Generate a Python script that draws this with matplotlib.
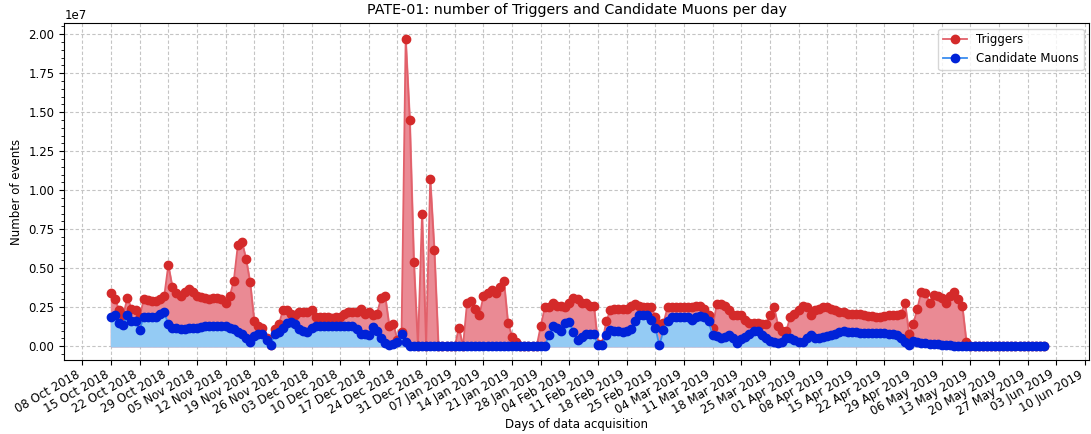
import matplotlib
matplotlib.use('Agg')
import matplotlib.pyplot as plt
import matplotlib.dates as md
from matplotlib.ticker import AutoMinorLocator
import numpy as np
import pandas as pd

# daily values, in units of 1e6 events, one list per month
start_day = '2018-10-15'

trig_oct = [3.4, 3.0, 2.3, 2.0, 3.1, 2.4, 2.3, 1.9, 3.0, 2.95, 2.9, 2.9, 3.0, 3.2, 5.2, 3.8, 3.4]
trig_nov = [3.2, 3.5, 3.7, 3.5, 3.2, 3.15, 3.1, 3.05, 3.1, 3.1, 3.05, 2.75, 3.2, 4.2, 6.5,
            6.7, 5.6, 4.1, 1.6, 1.3, 1.2, 0.5, 0.1, 1.1, 1.4, 2.3, 2.3, 2.1, 2.0, 2.2]
trig_dec = [2.2, 2.2, 2.3, 1.9, 1.9, 1.85, 1.85, 1.8, 1.85, 1.85, 2.1, 2.2, 2.2, 2.2, 2.4,
            2.1, 2.2, 2.0, 2.1, 3.1, 3.2, 1.3, 1.4, 0.4, 0.9, 19.7, 14.5, 5.4, 0.0, 8.5, 0.0]
trig_jan = [10.7, 6.2, 0, 0, 0, 0, 0, 1.2, 0, 2.8, 2.9, 2.4, 2.0, 3.2, 3.4, 3.6, 3.4, 3.8,
            4.2, 1.5, 0.6, 0.3, 0, 0, 0, 0, 0, 1.3, 2.5, 2.5, 2.8]
trig_feb = [2.6, 2.6, 2.5, 2.8, 3.1, 3.0, 2.8, 2.75, 2.6, 2.6, 0.15, 0.15, 1.6, 2.3, 2.4,
            2.4, 2.4, 2.4, 2.6, 2.7, 2.6, 2.5, 2.5, 2.5, 1.9, 1.4, 1.5, 2.5]
trig_mar = [2.5, 2.5, 2.5, 2.5, 2.5, 2.5, 2.6, 2.6, 2.4, 2.0, 1.2, 2.7, 2.7, 2.6, 2.3, 2.0,
            2.0, 2.0, 1.7, 1.5, 1.5, 1.5, 1.4, 1.4, 2.0, 2.5, 1.3, 1.0, 1.0, 1.9, 2.1]
trig_apr = [2.3, 2.6, 2.5, 2.0, 2.3, 2.4, 2.5, 2.5, 2.4, 2.3, 2.2, 2.2, 2.1, 2.1, 2.1,
            2.05, 2.0, 1.95, 1.95, 1.9, 1.9, 1.95, 2.0, 2.0, 2.0, 2.05, 2.8, 0.8, 1.4, 2.4]
trig_may = [3.5, 3.4, 2.8, 3.3, 3.2, 3.1, 2.8, 3.2, 3.5, 3.0, 2.6, 0.3] + [0.0] * 19

muon_oct = [1.85, 2.0, 1.5, 1.35, 2.0, 1.6, 1.6, 1.05, 1.9, 1.9, 1.9, 1.9, 2.05, 2.2, 1.4, 1.2, 1.15]
muon_nov = [1.1, 1.1, 1.15, 1.2, 1.2, 1.25, 1.3, 1.3, 1.3, 1.3, 1.3, 1.3, 1.2, 1.1, 0.9,
            0.8, 0.5, 0.3, 0.65, 0.8, 0.8, 0.4, 0.05, 0.8, 0.9, 1.2, 1.5, 1.55, 1.4, 1.1]
muon_dec = [1.0, 0.9, 1.2, 1.3, 1.3, 1.3, 1.3, 1.3, 1.3, 1.3, 1.3, 1.3, 1.3, 1.1, 0.8,
            0.8, 0.7, 1.25, 1.0, 0.5, 0.2, 0.05, 0.15, 0.25, 0.8, 0.3, 0, 0, 0, 0, 0]
muon_jan = [0.0] * 29 + [0.7, 1.3]
muon_feb = [1.2, 1.0, 1.5, 1.55, 0.9, 0.4, 0.6, 0.8, 0.8, 0.8, 0.05, 0.05, 0.7, 1.05, 1.0,
            1.0, 0.9, 1.0, 1.1, 1.6, 2.0, 2.0, 2.0, 1.7, 1.2, 0.05, 1.05, 1.6]
muon_mar = [1.9, 1.9, 1.9, 1.9, 1.9, 1.7, 1.9, 1.95, 1.9, 1.6, 0.7, 0.65, 0.5, 0.6, 0.7,
            0.5, 0.2, 0.45, 0.6, 0.8, 0.95, 1.0, 0.7, 0.5, 0.35, 0.3, 0.2, 0.25, 0.55, 0.5, 0.4]
muon_apr = [0.3, 0.3, 0.5, 0.7, 0.5, 0.55, 0.6, 0.65, 0.7, 0.8, 0.9, 1.0, 0.9, 0.9, 0.9,
            0.85, 0.85, 0.85, 0.85, 0.85, 0.85, 0.85, 0.8, 0.8, 0.7, 0.5, 0.28, 0.06, 0.35, 0.25]
muon_may = [0.2, 0.18, 0.15, 0.15, 0.12, 0.1, 0.08, 0.06] + [0.03] * 23

triggers = np.array(trig_oct + trig_nov + trig_dec + trig_jan + trig_feb + trig_mar
                    + trig_apr + trig_may) * 1e6
muons = np.array(muon_oct + muon_nov + muon_dec + muon_jan + muon_feb + muon_mar
                 + muon_apr + muon_may) * 1e6
days = pd.date_range(start_day, periods=len(triggers), freq='D')

fig = plt.figure(figsize=(10.91, 4.34), dpi=100)
ax = fig.add_axes([0.0589, 0.1698, 0.9397, 0.7779])

ax.fill_between(days, 0, triggers, color='#ea8a94', zorder=2)
ax.plot(days, triggers, '-o', color='#e2606a', mfc='#d42a2a', mec='#d42a2a',
        ms=6, lw=1.3, label='Triggers', zorder=3)
ax.fill_between(days, 0, muons, color='#94cbf4', zorder=4)
ax.plot(days, muons, '-o', color='#3a8ef0', mfc='#0022d8', mec='#0022d8',
        ms=6, lw=1.3, label='Candidate Muons', zorder=5)

ax.set_xlim(pd.Timestamp('2018-10-03 14:00'), pd.Timestamp('2019-06-11 02:00'))
ax.set_ylim(-0.9e6, 2.074e7)

ax.xaxis.set_major_locator(md.WeekdayLocator(byweekday=md.MO))
ax.xaxis.set_major_formatter(md.DateFormatter('%d %b %Y'))
ax.yaxis.set_minor_locator(AutoMinorLocator())
ax.tick_params(labelsize=8.5)
ax.tick_params(axis='x', pad=2)
plt.setp(ax.get_xticklabels(), rotation=30, ha='right')
ax.yaxis.get_offset_text().set_fontsize(8.5)

ax.grid(True, which='major', linestyle=(0, (3, 2)), color='#c4c4c4', lw=0.8, zorder=0)
ax.set_axisbelow(True)

ax.set_title('PATE-01: number of Triggers and Candidate Muons per day', fontsize=10.3)
ax.set_xlabel('Days of data acquisition', fontsize=8.5, labelpad=0)
ax.set_ylabel('Number of events', fontsize=8.5)
ax.legend(loc='upper right', fontsize=8.5)

fig.savefig('out.png', dpi=100)
